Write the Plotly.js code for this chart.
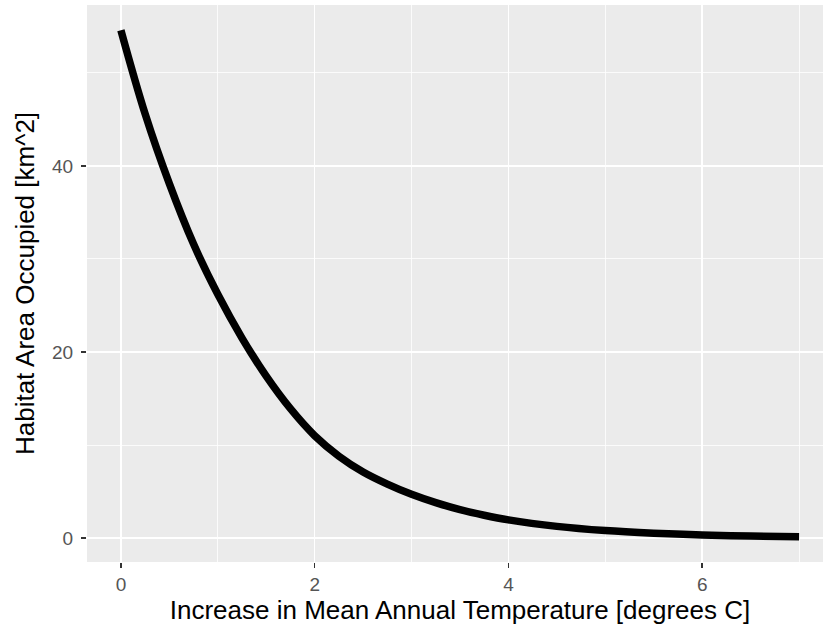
<!DOCTYPE html>
<html>
<head>
<meta charset="utf-8">
<script src="https://cdn.plot.ly/plotly-3.0.1.min.js"></script>
<style>
  html, body { margin: 0; padding: 0; background: #ffffff; overflow: hidden; }
  #chart { width: 833px; height: 630px; }
</style>
</head>
<body>
<div id="chart"></div>
<script>
// Warming increase (degrees C) and the habitat area still occupied (km^2)
const warming = [0, 0.25, 0.5, 0.75, 1.0, 1.25, 1.5, 1.75, 2.0, 2.25, 2.5, 2.75,
                 3.0, 3.25, 3.5, 3.75, 4.0, 4.5, 5.0, 5.5, 6.0, 6.5, 7.0];
const habitatArea = [54.6, 45.6, 38.1, 31.6, 26.2, 21.5, 17.4, 13.9, 11.0, 8.8, 7.1, 5.8,
                     4.7, 3.8, 3.05, 2.45, 1.95, 1.25, 0.8, 0.52, 0.33, 0.21, 0.14];

const xTicks = [0, 2, 4, 6];
const yTicks = [0, 20, 40];

const font = 'Liberation Sans, Arial, Helvetica, sans-serif';

const trace = {
  x: warming,
  y: habitatArea,
  type: 'scatter',
  mode: 'lines',
  line: { color: '#000000', width: 7.5, shape: 'spline', smoothing: 1 },
  hoverinfo: 'skip',
  showlegend: false
};

const axisCommon = {
  showgrid: true,
  gridcolor: '#ffffff',
  gridwidth: 1.6,
  zeroline: false,
  showline: false,
  ticks: 'outside',
  ticklen: 5,
  tickwidth: 1.6,
  tickcolor: '#333333',
  tickfont: { family: font, size: 19, color: '#555555' },
  automargin: false
};

// The panel runs slightly past the right edge of the page, so the
// plot is laid out 833px wide and the page clips it at 823px.
const layout = {
  width: 833,
  height: 630,
  margin: { l: 87, r: 0, t: 5, b: 68 },
  paper_bgcolor: '#ffffff',
  plot_bgcolor: '#ebebeb',
  xaxis: Object.assign({}, axisCommon, {
    range: [-0.35, 7.35],
    tickmode: 'array',
    tickvals: xTicks,
    ticktext: xTicks.map(String),
    minor: { dtick: 1, tick0: 1, showgrid: true, gridcolor: '#ffffff', gridwidth: 0.8, ticks: '' },
    title: { text: 'Increase in Mean Annual Temperature [degrees C]',
             font: { family: font, size: 26, color: '#000000' }, standoff: 5 }
  }),
  yaxis: Object.assign({}, axisCommon, {
    range: [-2.58, 57.31],
    tickmode: 'array',
    tickvals: yTicks,
    ticktext: yTicks.map(String),
    ticklabelstandoff: 4,
    minor: { dtick: 10, tick0: 10, showgrid: true, gridcolor: '#ffffff', gridwidth: 0.8, ticks: '' },
    title: { text: 'Habitat Area Occupied [km^2]',
             font: { family: font, size: 26, color: '#000000' }, standoff: 9 }
  })
};

Plotly.newPlot('chart', [trace], layout, { staticPlot: true, displayModeBar: false });
</script>
</body>
</html>
